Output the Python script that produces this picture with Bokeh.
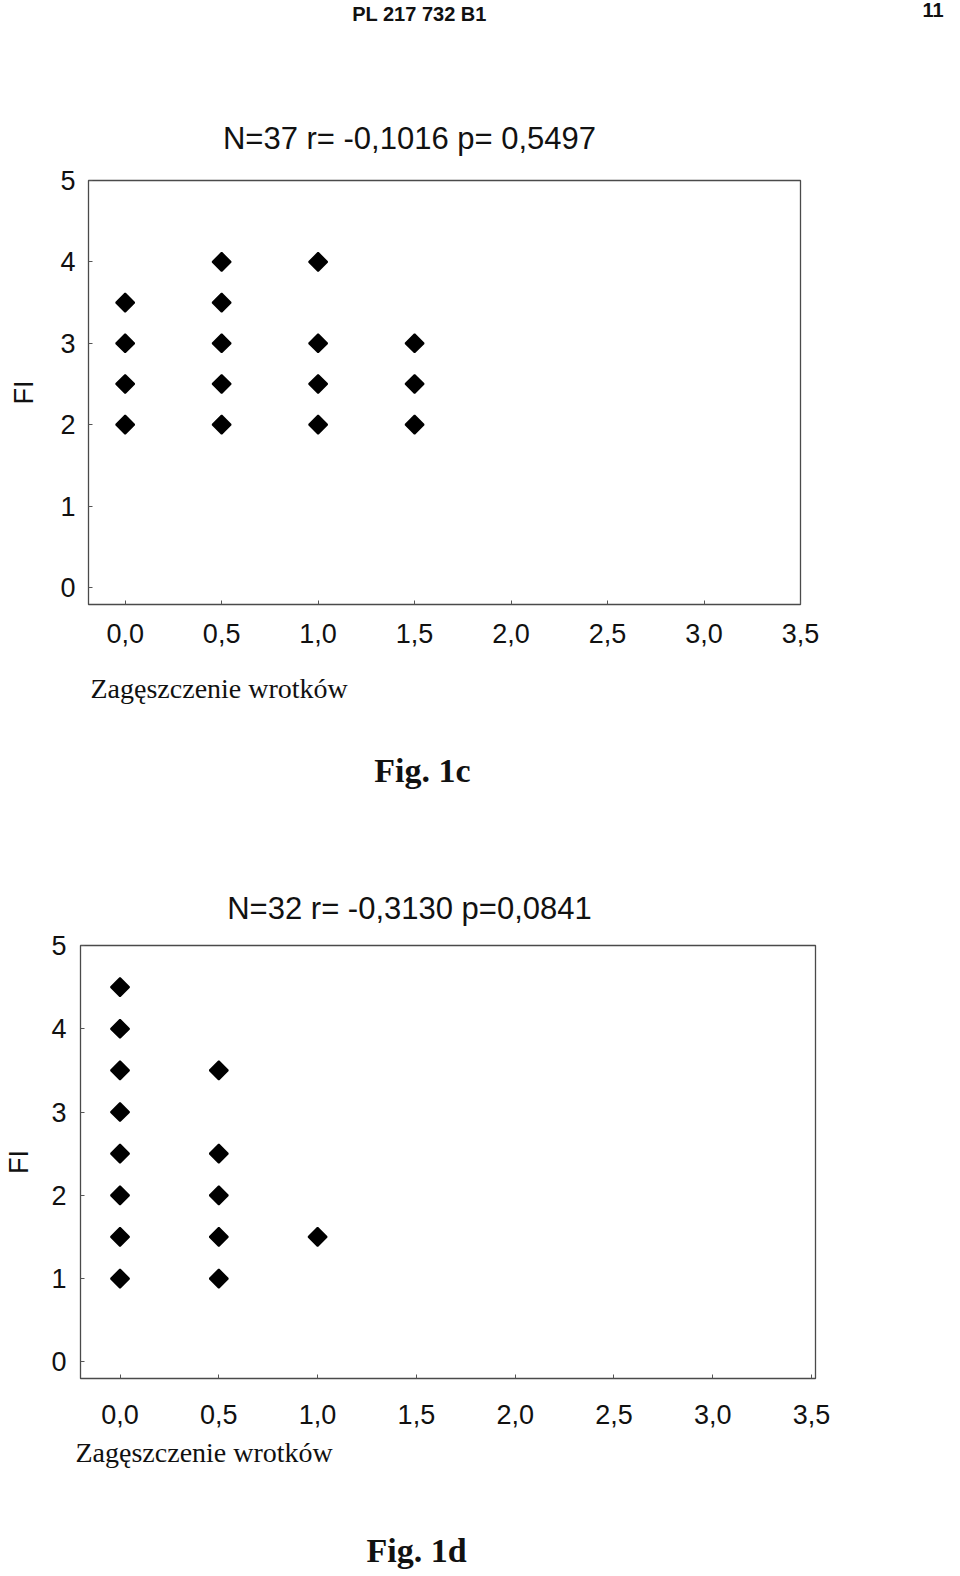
import math
from bokeh.plotting import figure
from bokeh.layouts import column, row
from bokeh.models import Range1d, FixedTicker, CustomJSTickFormatter, Label
from bokeh.embed import file_html
from bokeh.resources import INLINE

# ---------------- data ----------------
header_left = "PL 217 732 B1"
header_right = "11"

x_label = "Zagęszczenie wrotków"
y_label = "FI"
x_ticks = [0.0, 0.5, 1.0, 1.5, 2.0, 2.5, 3.0, 3.5]
y_ticks = [0, 1, 2, 3, 4, 5]

fig1c_title = "N=37 r= -0,1016 p= 0,5497"
fig1c_caption = "Fig. 1c"
fig1c_x = [0.0, 0.0, 0.0, 0.0, 0.5, 0.5, 0.5, 0.5, 0.5, 1.0, 1.0, 1.0, 1.0, 1.5, 1.5, 1.5]
fig1c_y = [3.5, 3.0, 2.5, 2.0, 4.0, 3.5, 3.0, 2.5, 2.0, 4.0, 3.0, 2.5, 2.0, 3.0, 2.5, 2.0]

fig1d_title = "N=32 r= -0,3130 p=0,0841"
fig1d_caption = "Fig. 1d"
fig1d_x = [0.0, 0.0, 0.0, 0.0, 0.0, 0.0, 0.0, 0.0, 0.5, 0.5, 0.5, 0.5, 0.5, 1.0]
fig1d_y = [4.5, 4.0, 3.5, 3.0, 2.5, 2.0, 1.5, 1.0, 3.5, 2.5, 2.0, 1.5, 1.0, 1.5]

SANS = "Liberation Sans"
SERIF = "Liberation Serif"
W = 960
INK = "#111111"


def text_panel(height, top_page, items):
    """A frame-only figure used to place page texts (header, titles, captions)."""
    p = figure(width=W, height=height, output_backend="svg", toolbar_location=None,
               x_range=Range1d(0, W), y_range=Range1d(height, 0),
               x_axis_location=None, y_axis_location=None, title=None,
               min_border=0, min_border_left=0, min_border_right=0,
               min_border_top=0, min_border_bottom=0)
    p.outline_line_color = None
    p.grid.visible = False
    p.background_fill_color = "white"
    p.border_fill_color = "white"
    for text, (xp, yp), font, size, bold, align, baseline in items:
        p.add_layout(Label(x=xp, y=yp - top_page, text=text, text_font=font,
                           text_font_size=size,
                           text_font_style="bold" if bold else "normal",
                           text_align=align, text_baseline=baseline,
                           text_color=INK))
    return p


def chart(height, b_left, b_top, frame_w, frame_h, xr, yr, xs, ys,
          x_standoff, y_standoff, ylab_standoff):
    p = figure(width=W, height=height, output_backend="svg", toolbar_location=None,
               x_range=Range1d(*xr), y_range=Range1d(*yr), title=None,
               min_border_left=b_left, min_border_top=b_top,
               min_border_right=W - b_left - frame_w,
               min_border_bottom=height - b_top - frame_h)
    p.xgrid.visible = False
    p.ygrid.visible = False
    p.outline_line_color = "#4a4a4a"
    p.outline_line_width = 1.3
    p.background_fill_color = "white"
    p.border_fill_color = "white"

    p.xaxis.ticker = FixedTicker(ticks=x_ticks)
    p.xaxis.formatter = CustomJSTickFormatter(code="return tick.toFixed(1).replace('.', ',')")
    p.yaxis.ticker = FixedTicker(ticks=y_ticks)
    for ax in (p.xaxis, p.yaxis):
        ax.axis_line_color = None
        ax.major_tick_in = 4
        ax.major_tick_out = 0
        ax.major_tick_line_color = "#555555"
        ax.minor_tick_line_color = None
        ax.major_label_text_font = SANS
        ax.major_label_text_color = INK
    p.xaxis.major_label_text_font_size = "27px"
    p.xaxis.major_label_standoff = x_standoff
    p.yaxis.major_label_text_font_size = "27px"
    p.yaxis.major_label_standoff = y_standoff
    p.yaxis.axis_label = y_label
    p.yaxis.axis_label_text_font = SANS
    p.yaxis.axis_label_text_font_style = "normal"
    p.yaxis.axis_label_text_font_size = "27px"
    p.yaxis.axis_label_text_color = INK
    p.yaxis.axis_label_standoff = ylab_standoff

    p.scatter(xs, ys, marker="square", size=13, angle=math.pi / 4,
              fill_color="black", line_color="black", line_width=1.8)
    return p


# page band 0-160: header + title of Fig. 1c
t1 = text_panel(160, 0, [
    (header_left, (419, 2), SANS, "20px", True, "center", "top"),
    (header_right, (922, 2), SANS, "20px", True, "left", "top"),
    (fig1c_title, (409, 138), SANS, "31px", False, "center", "middle"),
])
# page band 160-662: chart Fig. 1c (frame 88..800 x 180..604)
p1 = chart(502, 88, 20, 712, 424, (-0.19, 3.5), (-0.21, 5.0),
           fig1c_x, fig1c_y, x_standoff=19, y_standoff=13, ylab_standoff=18)
# page band 662-930: x label, caption 1c, title of Fig. 1d
t2 = text_panel(268, 662, [
    (x_label, (90, 688), SERIF, "28px", False, "left", "middle"),
    (fig1c_caption, (422, 770), SERIF, "34px", True, "center", "middle"),
    (fig1d_title, (409, 908), SANS, "31px", False, "center", "middle"),
])
# page band 930-1436: chart Fig. 1d (frame 80..815 x 945..1378)
p2 = chart(506, 80, 15, 735, 433, (-0.2, 3.52), (-0.2, 5.0),
           fig1d_x, fig1d_y, x_standoff=26, y_standoff=14, ylab_standoff=14)
# page band 1436-1576: x label, caption 1d
t3 = text_panel(140, 1436, [
    (x_label, (75, 1452), SERIF, "28px", False, "left", "middle"),
    (fig1d_caption, (416, 1550), SERIF, "34px", True, "center", "middle"),
])

layout = column(row(t1), row(p1), row(t2), row(p2), row(t3), spacing=0)
open("out.html", "w").write(file_html(layout, INLINE))
